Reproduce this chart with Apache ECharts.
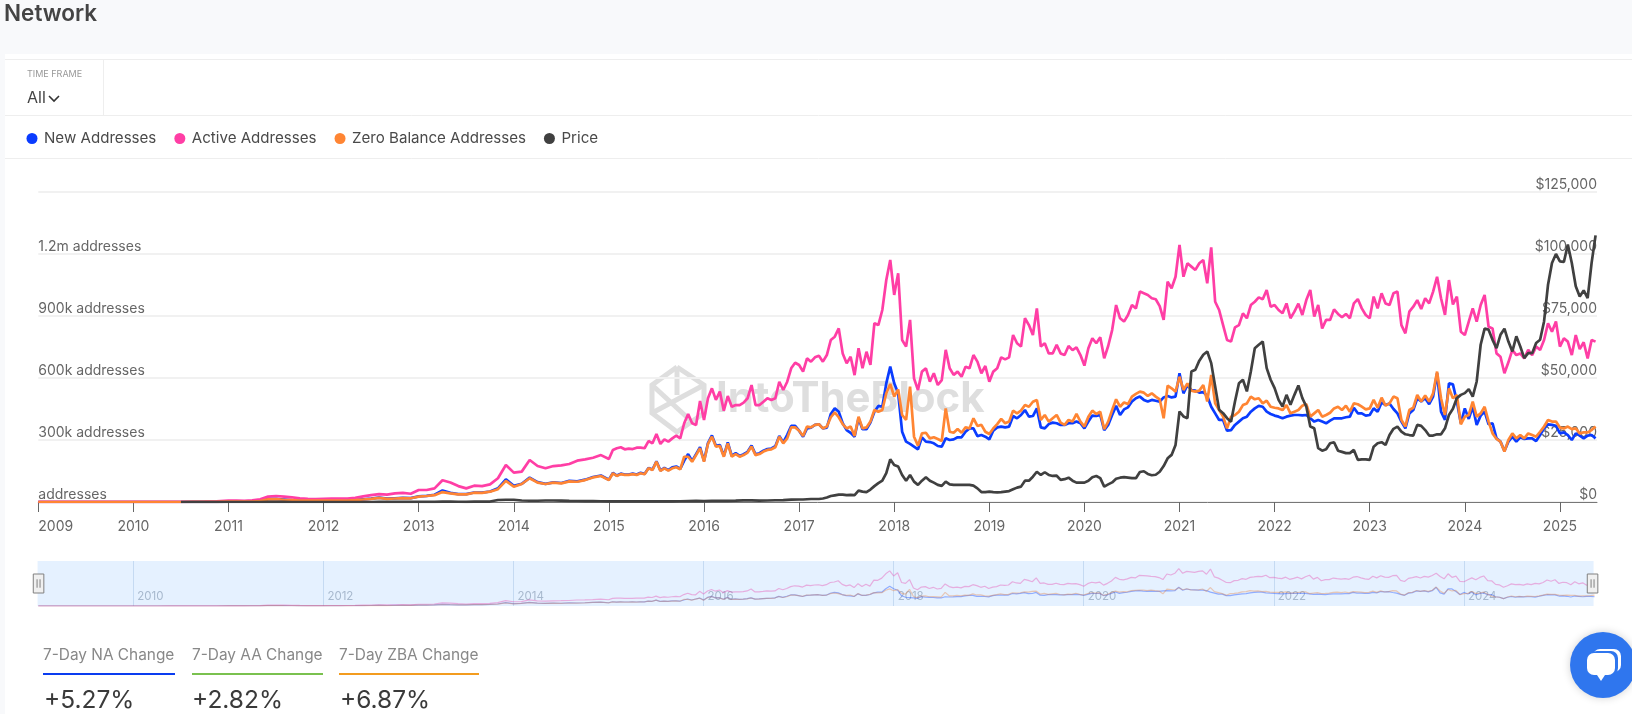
<!DOCTYPE html>
<html>
<head>
<meta charset="utf-8">
<title>Network</title>
<script src="https://cdn.jsdelivr.net/npm/echarts@6/dist/echarts.min.js"></script>
<style>
  html, body { margin: 0; padding: 0; background: #f8f9fb; }
  #chart { width: 1632px; height: 714px; }
</style>
</head>
<body>
<div id="chart"></div>
<script>
const seriesNames = ["New Addresses", "Active Addresses", "Zero Balance Addresses", "Price"];
const seriesColors = ["#0a3cff", "#ff3ea5", "#ff8533", "#404040"];
const firstYear = 2009;
const yearTicks = [2009, 2010, 2011, 2012, 2013, 2014, 2015, 2016, 2017, 2018, 2019, 2020, 2021, 2022, 2023, 2024, 2025];
const miniYearTicks = [2010, 2012, 2014, 2016, 2018, 2020, 2022, 2024];

// one row per calendar year, thousands of addresses
const newAddresses = [
  [0, 0, 0, 0],
  [0, 0, 0, 0.1, 0.1, 0.2, 0.3, 0.4],
  [1.5, 1.5, 1.5, 2, 5, 15, 15, 12, 9, 7, 7, 7],
  [7, 7, 7, 8, 10, 13, 16, 21, 16, 18, 20, 19],
  [27, 30, 35, 56, 44, 38, 38, 46, 45, 51, 66, 110],
  [78, 88, 118, 96, 88, 95, 92, 102, 100, 108, 121, 128],
  [108, 141, 128, 137, 133, 133, 137, 133, 141, 136, 165, 157, 197, 152, 165, 154, 168, 172, 160, 200, 232, 199, 232, 265],
  [199, 285, 322, 272, 276, 223, 288, 223, 236, 223, 231, 243, 273, 231, 236, 248, 256, 259, 270, 320, 288, 325, 368, 368],
  [345, 316, 356, 360, 373, 376, 356, 360, 426, 453, 437, 381, 348, 335, 316, 405, 352, 352, 384, 437, 465, 461, 574, 655],
  [574, 526, 340, 292, 281, 268, 255, 313, 292, 290, 284, 271, 268, 308, 300, 303, 313, 313, 340, 356, 356, 319, 324, 316],
  [303, 345, 361, 365, 361, 365, 416, 405, 421, 445, 413, 416, 453, 361, 356, 377, 384, 381, 373, 373, 381, 381, 389, 381],
  [356, 389, 418, 416, 421, 348, 373, 421, 465, 421, 448, 458, 486, 502, 510, 494, 486, 494, 490, 486, 506, 513, 506, 510],
  [623, 526, 566, 542, 539, 529, 532, 513, 461, 429, 397, 397, 345, 348, 373, 389, 405, 413, 437, 453, 465, 461, 437, 426],
  [418, 413, 405, 413, 418, 421, 421, 419, 421, 405, 389, 397, 389, 381, 394, 405, 405, 405, 410, 413, 456, 429, 429, 418],
  [421, 453, 437, 482, 469, 477, 450, 429, 389, 356, 429, 445, 502, 486, 502, 473, 510, 623, 437, 397, 574, 569, 486, 381],
  [453, 402, 461, 373, 418, 437, 376, 381, 308, 292, 247, 292, 316, 292, 313, 305, 308, 308, 295, 324, 356, 376, 373, 369],
  [332, 337, 324, 300, 332, 321, 308, 321, 324, 308]
];
const activeAddresses = [
  [0.2, 0.5, 0.5, 0.6],
  [0.6, 0.7, 0.8, 1, 1, 1.2, 2, 3],
  [7, 7, 6, 8, 13, 26, 29, 26, 22, 18, 15, 14],
  [15, 16, 16, 17, 20, 27, 33, 38, 36, 42, 44, 40],
  [58, 58, 66, 105, 94, 77, 66, 79, 77, 85, 115, 179],
  [142, 147, 203, 174, 163, 174, 177, 184, 200, 206, 214, 227],
  [208, 252, 260, 265, 255, 258, 256, 263, 263, 260, 295, 284, 329, 281, 303, 292, 308, 321, 308, 381, 426, 381, 373, 489],
  [397, 502, 550, 494, 534, 442, 513, 461, 469, 469, 481, 502, 566, 469, 469, 485, 502, 494, 502, 582, 542, 582, 647, 674],
  [663, 631, 695, 679, 700, 708, 679, 711, 784, 800, 840, 719, 671, 703, 614, 744, 647, 727, 663, 865, 856, 929, 1074, 1171],
  [1002, 1107, 784, 752, 881, 598, 542, 631, 647, 582, 623, 566, 590, 736, 647, 615, 631, 606, 655, 647, 711, 679, 623, 658],
  [582, 631, 647, 700, 690, 700, 808, 768, 752, 889, 856, 808, 937, 752, 768, 719, 719, 760, 719, 711, 755, 735, 748, 711],
  [660, 744, 792, 768, 797, 695, 755, 832, 953, 889, 873, 905, 953, 937, 1018, 1010, 1002, 986, 981, 948, 881, 1066, 1034, 1090],
  [1244, 1090, 1155, 1139, 1123, 1155, 1171, 1058, 1232, 969, 929, 856, 784, 776, 845, 856, 913, 889, 953, 969, 990, 981, 1026, 945],
  [953, 929, 913, 961, 889, 921, 960, 905, 977, 1026, 897, 953, 840, 881, 881, 932, 910, 894, 910, 889, 961, 982, 937, 905],
  [889, 994, 937, 1010, 961, 953, 1010, 1018, 856, 816, 921, 945, 977, 934, 986, 961, 1018, 1090, 986, 905, 1074, 956, 994, 824],
  [808, 873, 937, 873, 953, 1002, 848, 840, 719, 703, 623, 676, 736, 711, 719, 695, 736, 711, 752, 736, 784, 865, 824, 873],
  [752, 792, 776, 711, 808, 740, 773, 695, 784, 776]
];
const zeroBalanceAddresses = [
  [0, 0, 0, 0],
  [0, 0, 0, 0.1, 0.1, 0.2, 0.3, 0.4],
  [1.5, 1.5, 1.5, 2, 4, 13, 14, 11, 9, 7, 7, 7],
  [7, 7, 7, 7, 9, 12, 15, 20, 15, 17, 19, 18],
  [26, 29, 33, 48, 42, 37, 37, 45, 44, 50, 62, 102],
  [74, 87, 115, 94, 87, 94, 90, 100, 98, 106, 119, 126],
  [106, 139, 126, 135, 131, 131, 135, 131, 139, 134, 163, 155, 195, 150, 163, 152, 163, 168, 158, 219, 219, 195, 227, 260],
  [195, 281, 316, 268, 271, 219, 284, 219, 232, 219, 227, 239, 268, 227, 232, 244, 252, 255, 265, 316, 284, 308, 361, 361],
  [345, 319, 365, 361, 373, 376, 356, 365, 410, 434, 410, 377, 356, 365, 319, 413, 356, 361, 389, 445, 437, 445, 526, 571],
  [510, 545, 421, 397, 558, 316, 273, 332, 335, 308, 313, 305, 295, 453, 340, 335, 353, 335, 361, 356, 405, 368, 373, 340],
  [329, 356, 377, 402, 381, 389, 442, 429, 442, 469, 461, 485, 494, 397, 421, 389, 405, 421, 384, 373, 397, 389, 426, 389],
  [365, 413, 442, 426, 437, 352, 389, 445, 497, 461, 482, 474, 510, 523, 534, 529, 513, 526, 510, 497, 405, 563, 550, 534],
  [606, 542, 574, 539, 534, 539, 566, 486, 615, 477, 445, 413, 356, 413, 421, 437, 469, 477, 510, 497, 502, 477, 490, 461],
  [456, 453, 445, 469, 429, 437, 445, 466, 474, 413, 429, 445, 413, 421, 432, 453, 461, 445, 466, 437, 477, 473, 461, 448],
  [453, 494, 456, 505, 466, 477, 510, 502, 397, 365, 445, 456, 518, 486, 515, 486, 526, 631, 502, 421, 550, 502, 518, 376],
  [413, 421, 486, 413, 429, 461, 389, 332, 305, 292, 244, 300, 332, 308, 324, 308, 332, 324, 316, 340, 365, 397, 389, 389],
  [360, 356, 365, 353, 356, 332, 337, 337, 348, 365]
];
// thousands of dollars
const priceValues = [
  [null, null, null, null],
  [null, null, null, null, null, null, 0.00006, 0.0001, 0.0001, 0.0002, 0.0003, 0.0003],
  [0.0004, 0.001, 0.001, 0.001, 0.004, 0.018, 0.014, 0.011, 0.006, 0.003, 0.003, 0.003],
  [0.006, 0.005, 0.005, 0.005, 0.005, 0.006, 0.009, 0.011, 0.011, 0.012, 0.012, 0.013],
  [0.015, 0.03, 0.09, 0.14, 0.12, 0.1, 0.09, 0.13, 0.13, 0.19, 0.8, 0.9],
  [0.9, 0.6, 0.5, 0.5, 0.6, 0.6, 0.55, 0.45, 0.4, 0.35, 0.35, 0.3],
  [0.23, 0.24, 0.28, 0.23, 0.24, 0.25, 0.28, 0.23, 0.24, 0.3, 0.37, 0.43],
  [0.38, 0.43, 0.42, 0.45, 0.53, 0.67, 0.65, 0.58, 0.61, 0.7, 0.74, 0.96],
  [1, 1, 1.1, 1.2, 1.2, 1.2, 1.4, 1.8, 2.4, 2.7, 3, 3, 2.8, 2.9, 2.8, 4.6, 4.2, 4, 5, 6.4, 7.6, 8.6, 11.6, 17.2],
  [14.9, 14.3, 10.9, 8.6, 10.9, 8.2, 6.9, 8.6, 10, 8.6, 7.8, 6.9, 6.5, 8.2, 7.1, 6.9, 6.9, 6.9, 6.9, 6.9, 6.6, 5.5, 4, 4],
  [4.2, 4, 3.9, 4, 4.2, 4.4, 5.1, 5.8, 6.2, 8.6, 8.6, 10.2, 12.2, 10.9, 12, 10.9, 10.5, 10.6, 8.9, 9.2, 9.8, 8.6, 7.8, 7.8],
  [7.8, 8.6, 10, 10.5, 9.6, 6.2, 7.1, 7.9, 9.4, 9.8, 10, 9.8, 9.6, 9.6, 12.1, 12.4, 11.3, 10.8, 11, 12.2, 14.5, 17.6, 19, 23],
  [36.5, 34.5, 33.8, 52.6, 53.3, 57, 59.4, 60.7, 56, 46.6, 37.2, 35.8, 33.8, 32.4, 40.5, 47.9, 49.3, 44.6, 52.6, 62, 63.4, 64.7, 54, 49.3],
  [45.9, 41.2, 38.5, 43.2, 39.2, 43.2, 47, 41.9, 38.5, 30.4, 29.7, 21.7, 20.7, 21.3, 23.7, 24.1, 20.7, 20.2, 19.7, 19.7, 21, 17, 17.2, 17.2],
  [17, 22.3, 23.7, 24.1, 23, 27, 29.5, 30.4, 28.4, 27.3, 27, 26.8, 31.1, 30.7, 29, 26.8, 26.8, 27.3, 27.3, 29.7, 35.1, 37.6, 41.9, 43.2],
  [43.9, 45.5, 42.5, 48.6, 63.4, 69.9, 69.5, 65.4, 62, 67.4, 69.9, 64.7, 60.7, 66.8, 62.7, 58, 60, 60, 64.1, 65.4, 72.8, 87.6, 96.4, 100],
  [97, 96.8, 103.8, 96.4, 87, 82.9, 85.3, 82.2, 96.4, 107.5]
];

// the 2025 row stops in May, so it keeps the half-month step of the rows before it
function toPoints(rows) {
  const points = [];
  rows.forEach((row, r) => {
    const step = r === rows.length - 1 ? 1 / 24 : 1 / row.length;
    row.forEach((v, i) => points.push([firstYear + r + i * step, v === null ? null : v * 1000]));
  });
  return points;
}

const font = "Inter";
const xMax = 2025.39;
const allRows = [newAddresses, activeAddresses, zeroBalanceAddresses];

const mainSeries = [newAddresses, activeAddresses, zeroBalanceAddresses, priceValues].map((rows, i) => ({
  name: seriesNames[i],
  type: "line",
  xAxisIndex: 0,
  yAxisIndex: i === 3 ? 1 : 0,
  showSymbol: false,
  animation: false,
  color: seriesColors[i],
  lineStyle: { width: 2.7, color: seriesColors[i] },
  data: toPoints(rows)
}));
const miniSeries = allRows.map((rows, i) => ({
  name: "mini " + seriesNames[i],
  type: "line",
  xAxisIndex: 1,
  yAxisIndex: 2,
  showSymbol: false,
  animation: false,
  silent: true,
  lineStyle: { width: 1.2, color: seriesColors[i], opacity: 0.4 },
  data: toPoints(rows)
}));

function label(text, x, y, size, color, weight) {
  return {
    type: "text", x: x, y: y, z: 5,
    style: { text: text, fill: color, font: (weight || 400) + " " + size + "px " + font, textVerticalAlign: "middle" }
  };
}
function rule(x1, y1, x2, y2, color, width) {
  return {
    type: "line", z: 5,
    shape: { x1: x1, y1: y1, x2: x2, y2: y2 },
    style: { stroke: color, lineWidth: width || 1 }
  };
}
function mark(points) {
  return { type: "polyline", z: -5, shape: { points: points }, style: { stroke: "#dedede", lineWidth: 5, fill: null } };
}

const pageGraphics = [
  { type: "rect", z: -10, shape: { x: 5, y: 54, width: 1627, height: 660 }, style: { fill: "#fff" } },
  rule(5, 59.5, 1632, 59.5, "#eeeeee"),
  rule(5, 115.5, 1632, 115.5, "#eeeeee"),
  rule(5, 158.5, 1632, 158.5, "#eeeeee"),
  rule(103.5, 59.5, 103.5, 115.5, "#eeeeee"),
  label("Network", 4, 14, 22.5, "#444444", 600),
  label("TIME FRAME", 27, 74.5, 9, "#999999"),
  label("All", 27, 98, 16, "#444444"),
  { type: "polyline", z: 5, shape: { points: [[49, 96], [54, 101], [59, 96]] }, style: { stroke: "#333", lineWidth: 1.6, fill: null } },

  // watermark
  mark([[677, 367], [704, 385], [704, 413], [677, 432], [652, 413], [652, 385], [677, 367]]),
  mark([[652, 385], [690, 420]]),
  mark([[704, 385], [652, 413]]),
  mark([[677, 367], [677, 395]]),
  { type: "text", x: 716, y: 399, z: -5, style: { text: "IntoTheBlock", fill: "#dedede", font: "700 42px " + font, textVerticalAlign: "middle" } },

  // 7-day change stats
  label("7-Day NA Change", 43, 655, 15.4, "#888888"),
  rule(43, 674, 175, 674, "#0a3cf0", 2),
  label("+5.27%", 44, 700.5, 24.5, "#3a3a3a"),
  label("7-Day AA Change", 192, 655, 15.4, "#888888"),
  rule(192, 674, 323, 674, "#7ac14f", 2),
  label("+2.82%", 192, 700.5, 24.5, "#3a3a3a"),
  label("7-Day ZBA Change", 339, 655, 15.4, "#888888"),
  rule(339, 674, 479, 674, "#f39c1f", 2),
  label("+6.87%", 340, 700.5, 24.5, "#3a3a3a"),

  // chat button
  { type: "circle", z: 20, shape: { cx: 1603, cy: 665, r: 33 }, style: { fill: "#2f76ee", shadowBlur: 8, shadowColor: "rgba(0,0,0,0.18)" } },
  { type: "rect", z: 21, shape: { x: 1593, y: 649, width: 28, height: 23, r: 7 }, style: { fill: "#fff" } },
  { type: "rect", z: 22, shape: { x: 1590, y: 651, width: 28, height: 24, r: 7 }, style: { fill: "#2f76ee" } },
  { type: "rect", z: 23, shape: { x: 1587, y: 653, width: 28, height: 22, r: 7 }, style: { fill: "#fff" } },
  { type: "polygon", z: 23, shape: { points: [[1597, 675], [1605, 675], [1601, 681]] }, style: { fill: "#fff" } }
];

const chart = echarts.init(document.getElementById("chart"), null, { renderer: "canvas" });
chart.setOption({
  animation: false,
  backgroundColor: "#f8f9fb",
  textStyle: { fontFamily: font },
  legend: {
    data: seriesNames,
    left: 21.5,
    top: 126,
    icon: "circle",
    itemWidth: 11,
    itemHeight: 11,
    itemGap: 18,
    selectedMode: false,
    textStyle: { fontFamily: font, fontSize: 15.1, color: "#4a4a4a", padding: [0, 0, 0, 1.5] }
  },
  grid: [
    { left: 38.3, right: 35, top: 192, height: 310 },
    { left: 38.3, right: 36, top: 561, height: 45 }
  ],
  xAxis: [
    {
      type: "value",
      gridIndex: 0,
      min: firstYear,
      max: xMax,
      splitLine: { show: false },
      axisLine: { lineStyle: { color: "#777", width: 1 } },
      axisTick: { customValues: yearTicks, length: 10, lineStyle: { color: "#666" } },
      axisLabel: {
        customValues: yearTicks,
        alignMinLabel: "left",
        margin: 18,
        color: "#666",
        fontSize: 14,
        fontFamily: font,
        formatter: (v) => String(v)
      }
    },
    {
      type: "value",
      gridIndex: 1,
      min: firstYear,
      max: xMax,
      splitLine: { show: false },
      axisLine: { show: false },
      axisTick: { customValues: miniYearTicks, inside: true, length: 45, lineStyle: { color: "#dbe5f0" } },
      axisLabel: {
        customValues: miniYearTicks,
        inside: true,
        align: "left",
        margin: 3,
        padding: [0, 0, 0, 4],
        color: "#b9bfc7",
        fontSize: 11.5,
        fontFamily: font,
        formatter: (v) => String(v)
      }
    }
  ],
  yAxis: [
    {
      type: "value",
      gridIndex: 0,
      min: 0,
      max: 1500000,
      interval: 300000,
      axisLine: { show: false },
      axisTick: { show: false },
      splitLine: { lineStyle: { color: "#f1f1f1", width: 2 } },
      axisLabel: {
        inside: true,
        margin: 0,
        verticalAlign: "bottom",
        color: "#666",
        fontSize: 14,
        fontFamily: font,
        formatter: (v) => {
          if (v === 0) return "addresses";
          if (v >= 1500000) return "";
          return v >= 1000000 ? v / 1000000 + "m addresses" : v / 1000 + "k addresses";
        }
      }
    },
    {
      type: "value",
      gridIndex: 0,
      position: "right",
      min: 0,
      max: 125000,
      interval: 25000,
      axisLine: { show: false },
      axisTick: { show: false },
      splitLine: { show: false },
      axisLabel: {
        inside: true,
        margin: 0,
        verticalAlign: "bottom",
        color: "#666",
        fontSize: 14,
        fontFamily: font,
        formatter: (v) => "$" + v.toLocaleString("en-US")
      }
    },
    {
      type: "value",
      gridIndex: 1,
      min: 0,
      max: 1500000,
      show: false
    }
  ],
  dataZoom: [
    {
      type: "slider",
      xAxisIndex: 0,
      filterMode: "none",
      start: 0,
      end: 100,
      left: 36.5,
      width: 1556,
      top: 561,
      height: 45,
      showDetail: false,
      showDataShadow: false,
      brushSelect: false,
      moveHandleSize: 0,
      borderColor: "transparent",
      backgroundColor: "transparent",
      fillerColor: "rgba(51,146,255,0.13)",
      handleIcon: "path://M0,0H10V18H0Z M3.6,5V13 M6.4,5V13",
      handleSize: 19,
      handleStyle: { color: "#f0f0f0", borderColor: "#808080", borderWidth: 1 },
      dataBackground: { lineStyle: { opacity: 0 }, areaStyle: { opacity: 0 } },
      selectedDataBackground: { lineStyle: { opacity: 0 }, areaStyle: { opacity: 0 } }
    }
  ],
  graphic: pageGraphics,
  series: mainSeries.concat(miniSeries)
});
</script>
</body>
</html>
